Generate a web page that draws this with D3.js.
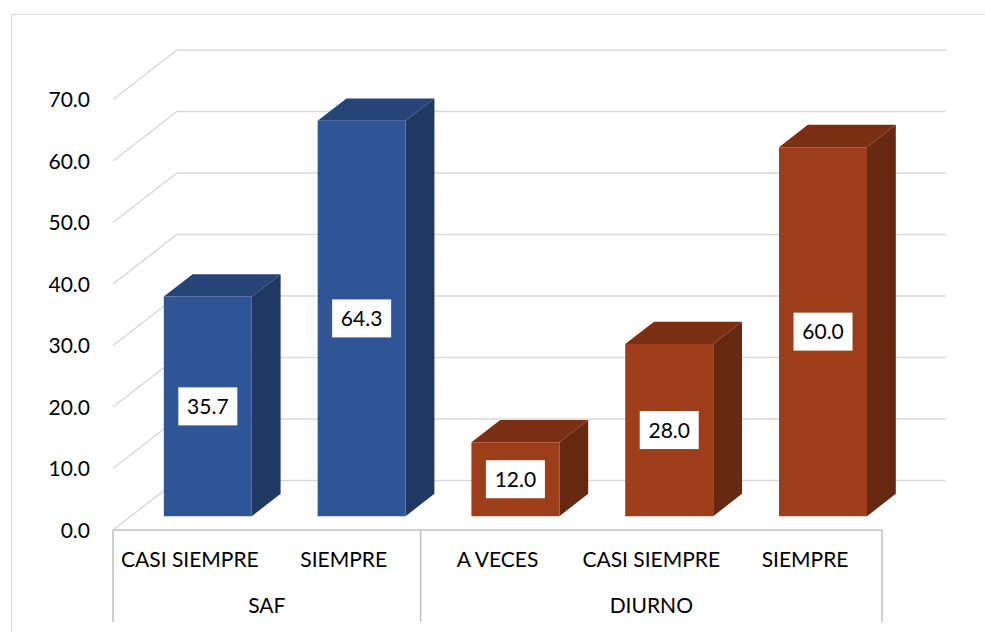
<!DOCTYPE html>
<html lang="es">
<head>
  <meta charset="UTF-8">
  <script src="https://d3js.org/d3.v7.min.js"></script>
  <title>SAF / DIURNO</title>
  <style>
    body { margin: 0; background: #fff; }
    text { font-family: Lato, "Liberation Sans", sans-serif; fill: #000; font-size: 21px; }
  </style>
</head>
<body>
  <div id="chart"></div>
  <script>
    // data
    const categories = ["CASI SIEMPRE", "SIEMPRE", "A VECES", "CASI SIEMPRE", "SIEMPRE"];
    const groupOf = ["SAF", "SAF", "DIURNO", "DIURNO", "DIURNO"];
    const groups = ["SAF", "DIURNO"];
    const values = [35.7, 64.3, 12.0, 28.0, 60.0];
    const yTicks = [0, 10, 20, 30, 40, 50, 60, 70];

    const width = 985, height = 632;
    const depthX = 64, depthY = -49.5;      // full depth of the 3d floor
    const z0 = 0.28, z1 = 0.73;             // bar front / back depth

    const colors = {
      SAF:    { front: "#2f5597", top: "#264478", side: "#203864" },
      DIURNO: { front: "#9e3d1a", top: "#7b2f13", side: "#662811" }
    };

    const svg = d3.select("#chart").append("svg")
      .attr("width", width)
      .attr("height", height);

    // chart border
    svg.append("rect")
      .attr("x", 11.5).attr("y", 14.5)
      .attr("width", 990).attr("height", 700)
      .attr("fill", "none")
      .attr("stroke", "#d9d9d9");

    const x = d3.scaleBand()
      .domain(d3.range(categories.length))
      .range([113, 882]);

    const y = d3.scaleLinear()
      .domain([0, 70])
      .range([530, 99.5]);

    const barW = x.bandwidth() * 0.572;

    // gridlines (side wall + back wall)
    svg.append("g").selectAll("polyline")
      .data(yTicks)
      .enter().append("polyline")
      .attr("points", d => [
        [113, y(d)],
        [113 + depthX, y(d) + depthY],
        [946, y(d) + depthY]
      ].join(" "))
      .attr("fill", "none")
      .attr("stroke", "#d9d9d9")
      .attr("stroke-width", 1.5);

    // y labels
    svg.append("g").selectAll("text")
      .data(yTicks)
      .enter().append("text")
      .attr("x", 90)
      .attr("y", d => y(d))
      .attr("dy", "0.36em")
      .attr("text-anchor", "end")
      .text(d => d3.format(".1f")(d));

    // bars
    const bars = svg.append("g").selectAll("g")
      .data(values)
      .enter().append("g");

    function pt(xx, v, z) {
      return [xx + depthX * z, y(v) + depthY * z];
    }

    bars.each(function (v, i) {
      const g = d3.select(this);
      const c = colors[groupOf[i]];
      const xl = x(i) + (x.bandwidth() - barW) / 2;
      const xr = xl + barW;
      const front = [pt(xl, 0, z0), pt(xl, v, z0), pt(xr, v, z0), pt(xr, 0, z0)];
      const top = [pt(xl, v, z0), pt(xl, v, z1), pt(xr, v, z1), pt(xr, v, z0)];
      const side = [pt(xr, 0, z0), pt(xr, v, z0), pt(xr, v, z1), pt(xr, 0, z1)];
      g.append("polygon").attr("points", side.join(" ")).attr("fill", c.side);
      g.append("polygon").attr("points", top.join(" ")).attr("fill", c.top);
      g.append("polygon").attr("points", front.join(" ")).attr("fill", c.front);

      // data label
      const cx = (xl + xr) / 2 + depthX * z0;
      const cy = (y(0) + y(v)) / 2 + depthY * z0;
      g.append("rect")
        .attr("x", cx - 29.5).attr("y", cy - 19)
        .attr("width", 59).attr("height", 38)
        .attr("fill", "#fff");
      g.append("text")
        .attr("x", cx).attr("y", cy)
        .attr("dy", "0.36em")
        .attr("text-anchor", "middle")
        .text(d3.format(".1f")(v));
    });

    // x axis: front floor line and group separators
    svg.append("line")
      .attr("x1", 113).attr("x2", 882)
      .attr("y1", 530).attr("y2", 530)
      .attr("stroke", "#bfbfbf").attr("stroke-width", 1.5);

    const seps = [0, 2, 5].map(i => i < categories.length ? x(i) : x.range()[1]);
    svg.append("g").selectAll("line")
      .data(seps)
      .enter().append("line")
      .attr("x1", d => d).attr("x2", d => d)
      .attr("y1", 530).attr("y2", 622)
      .attr("stroke", "#bfbfbf").attr("stroke-width", 1.5);

    svg.append("g").selectAll("text")
      .data(categories)
      .enter().append("text")
      .attr("x", (d, i) => x(i) + x.bandwidth() / 2)
      .attr("y", 567)
      .attr("text-anchor", "middle")
      .text(d => d);

    svg.append("g").selectAll("text")
      .data(groups)
      .enter().append("text")
      .attr("x", g => {
        const idx = groupOf.map((d, i) => d === g ? i : -1).filter(i => i >= 0);
        return (x(idx[0]) + x(idx[idx.length - 1]) + x.bandwidth()) / 2;
      })
      .attr("y", 613)
      .attr("text-anchor", "middle")
      .text(d => d);
  </script>
</body>
</html>
